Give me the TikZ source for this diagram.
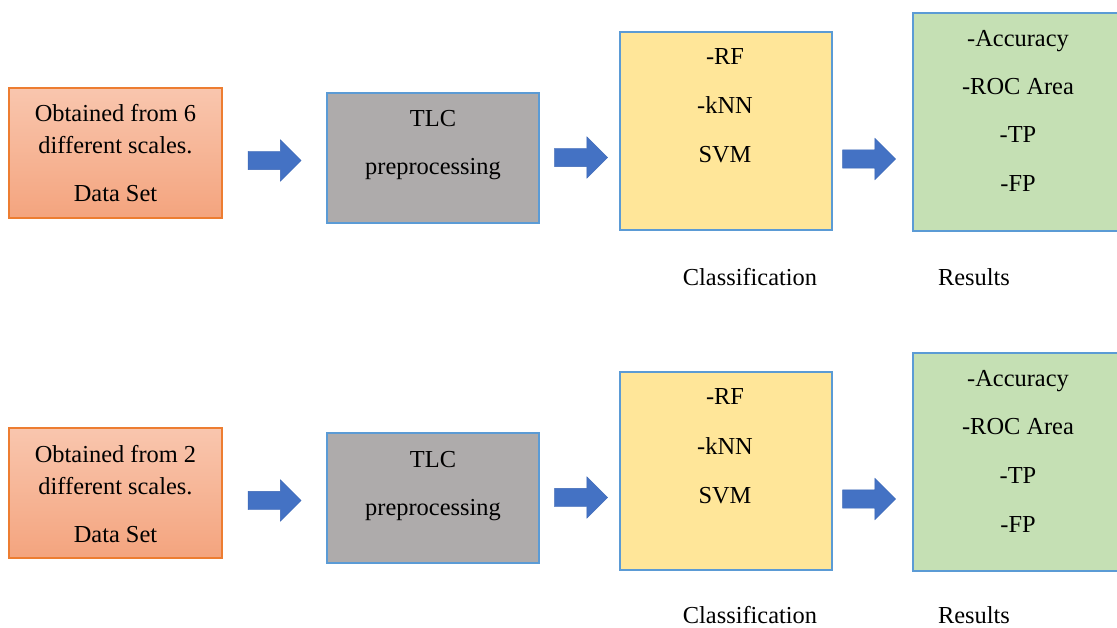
\documentclass[tikz,border=0pt]{standalone}
\usepackage{fontspec}
\setmainfont{Liberation Serif}
\usetikzlibrary{shapes.arrows}

\definecolor{dsborder}{HTML}{ED7D31}
\definecolor{dstop}{HTML}{F9C6AE}
\definecolor{dsbottom}{HTML}{F4A47E}
\definecolor{tlcfill}{HTML}{AEABAB}
\definecolor{clsfill}{HTML}{FFE699}
\definecolor{resfill}{HTML}{C5E0B4}
\definecolor{boxborder}{HTML}{5B9BD5}
\definecolor{arrowfill}{HTML}{4472C4}
\definecolor{arrowline}{HTML}{3B66B4}

\tikzset{
  box/.style={draw=boxborder, line width=1.3pt, anchor=north west,
    inner sep=0pt, outer sep=0pt},
  dsbox/.style={box, draw=dsborder, top color=dstop, bottom color=dsbottom,
    minimum width=213pt, minimum height=130pt},
  tlcbox/.style={box, fill=tlcfill, minimum width=212pt, minimum height=130pt},
  clsbox/.style={box, fill=clsfill, minimum width=212pt, minimum height=198pt},
  resbox/.style={box, fill=resfill, minimum width=212pt, minimum height=218pt},
  txt/.style={anchor=base, inner sep=0pt,
    font=\fontsize{24.4}{29}\selectfont},
  flow/.style={single arrow, fill=arrowfill, draw=arrowline, line width=0.4pt,
    text height=9pt, text depth=9pt, text width=0pt,
    minimum height=53pt, single arrow head extend=11.5pt,
    single arrow head indent=0pt, inner sep=0pt, outer sep=0pt}
}

\begin{document}
\begin{tikzpicture}[x=1pt, y=-1pt]
  \useasboundingbox (0,0) rectangle (1117,628);

  \foreach \row/\dy/\n/\cy in {a/0/6/286, b/340/2/623} {
    % boxes
    \node[dsbox]  (ds\row)  at (9,88+\dy)   {};
    \node[tlcbox] (tlc\row) at (327,93+\dy) {};
    \node[clsbox] (cls\row) at (620,32+\dy) {};
    \node[resbox] (res\row) at (913,13+\dy) {};

    % block arrows between the stages
    \node[flow] (f1\row) at (270,160.5+\dy) {};
    \node[flow] (f2\row) at (576.5,157.5+\dy) {};
    \node[flow] (f3\row) at (864.5,159+\dy) {};

    % data set
    \node[txt] (dsl1\row) at (115.5,122+\dy) {Obtained from \n};
    \node[txt] (dsl2\row) at (115.5,154+\dy) {different scales.};
    \node[txt] (dsl3\row) at (115.5,202+\dy) {Data Set};

    % preprocessing
    \node[txt] (tlcl1\row) at (433,127+\dy) {TLC};
    \node[txt] (tlcl2\row) at (433,175+\dy) {preprocessing};

    % classifiers
    \node[txt] (clsl1\row) at (725,65+\dy)  {-RF};
    \node[txt] (clsl2\row) at (725,114+\dy) {-kNN};
    \node[txt] (clsl3\row) at (725,163+\dy) {SVM};

    % metrics
    \node[txt] (resl1\row) at (1018,47+\dy)  {-Accuracy};
    \node[txt] (resl2\row) at (1018,95+\dy)  {-ROC Area};
    \node[txt] (resl3\row) at (1018,143+\dy) {-TP};
    \node[txt] (resl4\row) at (1018,192+\dy) {-FP};

    % stage captions
    \node[txt] (capc\row) at (750,\cy) {Classification};
    \node[txt] (capr\row) at (974,\cy) {Results};
  }
\end{tikzpicture}
\end{document}
